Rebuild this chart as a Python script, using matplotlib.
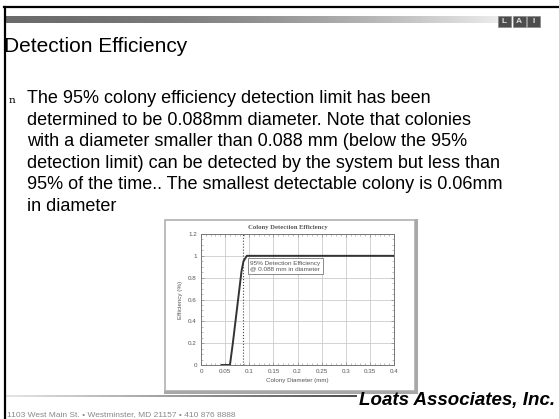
import numpy as np
import matplotlib
matplotlib.use('Agg')
import matplotlib.pyplot as plt
from matplotlib.patches import Rectangle
from matplotlib.lines import Line2D

# ------------------- 数据 -------------------
diameter = [0.0, 0.043, 0.06, 0.066, 0.072, 0.078, 0.084, 0.088, 0.095, 0.15, 0.2, 0.25, 0.3, 0.35, 0.4]
efficiency = [np.nan, 0.0, 0.0, 0.2, 0.42, 0.64, 0.86, 0.95, 1.0, 1.0, 1.0, 1.0, 1.0, 1.0, 1.0]
limit_x = 0.088

x_ticks = [0, 0.05, 0.1, 0.15, 0.2, 0.25, 0.3, 0.35, 0.4]
x_labels = ['0', '0.05', '0.1', '0.15', '0.2', '0.25', '0.3', '0.35', '0.4']
y_ticks = [0, 0.2, 0.4, 0.6, 0.8, 1.0, 1.2]
y_labels = ['0', '0.2', '0.4', '0.6', '0.8', '1', '1.2']

slide_title = 'Detection Efficiency'
body_lines = [
    'The 95% colony efficiency detection limit has been',
    'determined to be 0.088mm diameter. Note that colonies',
    'with a diameter smaller than 0.088 mm (below the 95%',
    'detection limit) can be detected by the system but less than',
    '95% of the time.. The smallest detectable colony is 0.06mm',
    'in diameter',
]
chart_title = 'Colony Detection Efficiency'
note_lines = ['95% Detection Efficiency', '@ 0.088 mm in diameter']
company = 'Loats Associates, Inc.'
address = '1103 West Main St. \u2022 Westminster, MD 21157 \u2022 410 876 8888'

W, H = 559, 419
plt.rcParams['font.family'] = ['Liberation Sans', 'DejaVu Sans']


def fx(x):
    return x / W


def fy(y):
    return 1 - y / H


fig = plt.figure(figsize=(W / 100, H / 100), dpi=100)
fig.patch.set_facecolor('white')

# ------------------- 幻灯片框架 -------------------
fig.add_artist(Line2D([fx(4), fx(W)], [fy(7), fy(7)], color='black', lw=1.6))
fig.add_artist(Line2D([fx(5), fx(5)], [fy(7), fy(H)], color='black', lw=1.6))

# 顶部渐变条
grad = fig.add_axes([fx(6), fy(23), fx(534), 7 / H])
g = np.linspace(0, 1, 300)
grad.imshow((0.42 + 0.58 * g ** 1.8)[None, :], aspect='auto', cmap='gray', vmin=0, vmax=1)
grad.axis('off')

# 右上角 logo
for i, ch in enumerate('LAI'):
    x0 = 498 + i * 14.5
    fig.add_artist(Rectangle((fx(x0), fy(27)), fx(13), 11 / H, transform=fig.transFigure,
                             facecolor='#4d4d4d', edgecolor='#888888', lw=0.5))
    fig.text(fx(x0 + 6.5), fy(21.5), ch, color='#dddddd', fontsize=6, fontweight='bold',
             ha='center', va='center')

fig.text(fx(4), fy(52), slide_title, fontsize=15, va='baseline', ha='left')

fig.text(fx(9), fy(103), 'n', fontsize=7.5, family='DejaVu Serif', va='baseline', ha='left')
for i, line in enumerate(body_lines):
    fig.text(fx(27), fy(103 + i * 21.6), line, fontsize=13, va='baseline', ha='left')

# 底部
foot = fig.add_axes([fx(6), fy(397), fx(351), 2.5 / H])
foot.imshow((0.9 - 0.6 * g)[None, :], aspect='auto', cmap='gray', vmin=0, vmax=1)
foot.axis('off')
fig.text(fx(555), fy(405), company, fontsize=13.5, fontweight='bold', fontstyle='italic',
         va='baseline', ha='right')
fig.text(fx(7), fy(416), address, fontsize=6, color='#888888', va='baseline', ha='left')

# ------------------- 嵌入图表 -------------------
fig.add_artist(Rectangle((fx(165), fy(391)), fx(250), (391 - 220) / H, transform=fig.transFigure,
                         facecolor='white', edgecolor='#b0b0b0', lw=1.2, zorder=-1))
fig.add_artist(Line2D([fx(416), fx(416)], [fy(391), fy(220)], color='#a8a8a8', lw=2.2, zorder=-1))
fig.add_artist(Line2D([fx(165), fx(416)], [fy(392), fy(392)], color='#a8a8a8', lw=2.2, zorder=-1))
fig.text(fx(288), fy(227), chart_title, fontsize=4.8, fontweight='bold', family='Liberation Serif',
         color='#555555', ha='center', va='center')

ax = fig.add_axes([fx(201), fy(365), fx(394 - 201), (365 - 234) / H])
ax.set_zorder(2)
ax.plot(diameter, efficiency, color='#333333', lw=1.4, zorder=3)
ax.axvline(limit_x, color='#444444', lw=0.8, ls=':', zorder=2)
ax.set_xlim(0, 0.4)
ax.set_ylim(0, 1.2)
ax.set_xticks(x_ticks)
ax.set_xticklabels(x_labels)
ax.set_yticks(y_ticks)
ax.set_yticklabels(y_labels)
ax.set_xticks(np.arange(0, 0.401, 0.01), minor=True)
ax.set_yticks(np.arange(0, 1.201, 0.05), minor=True)
ax.grid(True, which='major', color='#cccccc', lw=0.6)
ax.tick_params(which='both', direction='in', top=True, right=True, labelsize=4.5,
               labelcolor='#555555', color='#888888', pad=3)
ax.tick_params(which='major', length=2.5, width=0.5)
ax.tick_params(which='minor', length=1.2, width=0.4)
for s in ax.spines.values():
    s.set_color('#777777')
    s.set_linewidth(0.7)
ax.set_xlabel('Colony Diameter (mm)', fontsize=4.5, color='#555555', labelpad=3)
ax.set_ylabel('Efficiency (%)', fontsize=4.5, color='#555555', labelpad=4)

ax.text(0.102, 1.0 - 0.045, '\n'.join(note_lines), fontsize=4.6, color='#555555', va='top', ha='left',
        linespacing=1.2,
        bbox=dict(boxstyle='square,pad=0.4', facecolor='white', edgecolor='#777777', lw=0.6))

fig.savefig('out.png', dpi=100)
